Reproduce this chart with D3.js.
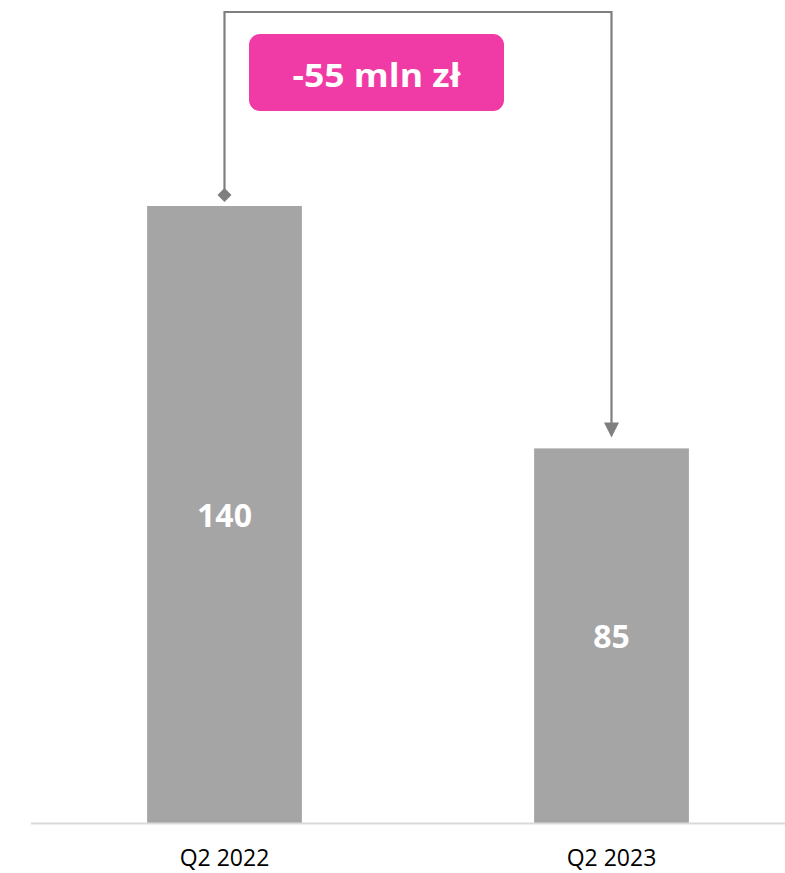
<!DOCTYPE html>
<html>
<head>
<meta charset="utf-8">
<script src="https://cdn.jsdelivr.net/npm/d3@7"></script>
<style>
  html, body { margin: 0; padding: 0; background: #fff; }
  svg { display: block; }
</style>
</head>
<body>
<svg id="chart" width="785" height="873"></svg>
<script>
const categories = ["Q2 2022", "Q2 2023"];
const values = [140, 85];
const valueLabels = ["140", "85"];
const changeLabel = "-55 mln zł";

const svg = d3.select("#chart");

const x = d3.scaleBand().domain(categories).range([31, 805]).paddingInner(0.6).paddingOuter(0.3);
const y = d3.scaleLinear().domain([0, 140]).range([823, 206]);

const barColor = "#A5A5A5";
const lineColor = "#7F7F7F";
const pink = "#F03AA5";

// bars
svg.selectAll("rect.bar").data(values).join("rect")
  .attr("class", "bar")
  .attr("x", (d, i) => x(categories[i]))
  .attr("y", d => y(d))
  .attr("width", x.bandwidth())
  .attr("height", d => y(0) - y(d))
  .attr("fill", barColor);

// axis baseline
const xAxis = d3.axisBottom(x).tickSize(0).tickPadding(0);
const axisG = svg.append("g").attr("transform", `translate(0,${y(0)})`).call(xAxis);
axisG.select(".domain").remove();
axisG.append("line").attr("x1", 31).attr("x2", 785).attr("y1", 0.5).attr("y2", 0.5)
  .attr("stroke", "#D9D9D9").attr("stroke-width", 2);
axisG.selectAll(".tick text")
  .attr("y", 43)
  .attr("dy", 0)
  .attr("fill", "#000")
  .style("font-family", "'Open Sans', sans-serif")
  .style("font-size", "23px");

// value labels
svg.selectAll("text.val").data(values).join("text")
  .attr("class", "val")
  .attr("x", (d, i) => x(categories[i]) + x.bandwidth() / 2)
  .attr("y", d => (y(d) + y(0)) / 2 + 12)
  .attr("text-anchor", "middle")
  .attr("fill", "#fff")
  .style("font-family", "'Open Sans', sans-serif")
  .style("font-weight", "700")
  .style("font-size", "32px")
  .text((d, i) => valueLabels[i]);

// bracket
const cx0 = x(categories[0]) + x.bandwidth() / 2;
const cx1 = x(categories[1]) + x.bandwidth() / 2;
const topY = 12;
const startY = y(values[0]) - 11;
const endY = y(values[1]) - 11;

svg.append("path")
  .attr("d", `M${cx0},${startY} L${cx0},${topY} L${cx1},${topY} L${cx1},${endY - 14}`)
  .attr("fill", "none")
  .attr("stroke", lineColor)
  .attr("stroke-width", 2.2);

// diamond start marker
svg.append("path")
  .attr("d", `M${cx0},${startY - 7} L${cx0 + 7},${startY} L${cx0},${startY + 7} L${cx0 - 7},${startY} Z`)
  .attr("fill", lineColor);

// arrowhead
svg.append("path")
  .attr("d", `M${cx1 - 7.5},${endY - 15} L${cx1 + 7.5},${endY - 15} L${cx1},${endY} Z`)
  .attr("fill", lineColor);

// change label box
const box = { x: 249, y: 34, w: 255, h: 77 };
svg.append("rect")
  .attr("x", box.x).attr("y", box.y)
  .attr("width", box.w).attr("height", box.h)
  .attr("rx", 11).attr("ry", 11)
  .attr("fill", pink);

svg.append("text")
  .attr("x", box.x + box.w / 2)
  .attr("y", 87)
  .attr("text-anchor", "middle")
  .attr("fill", "#fff")
  .attr("textLength", 168)
  .attr("lengthAdjust", "spacingAndGlyphs")
  .style("font-family", "'Open Sans', sans-serif")
  .style("font-weight", "700")
  .style("font-size", "33px")
  .text(changeLabel);
</script>
</body>
</html>
